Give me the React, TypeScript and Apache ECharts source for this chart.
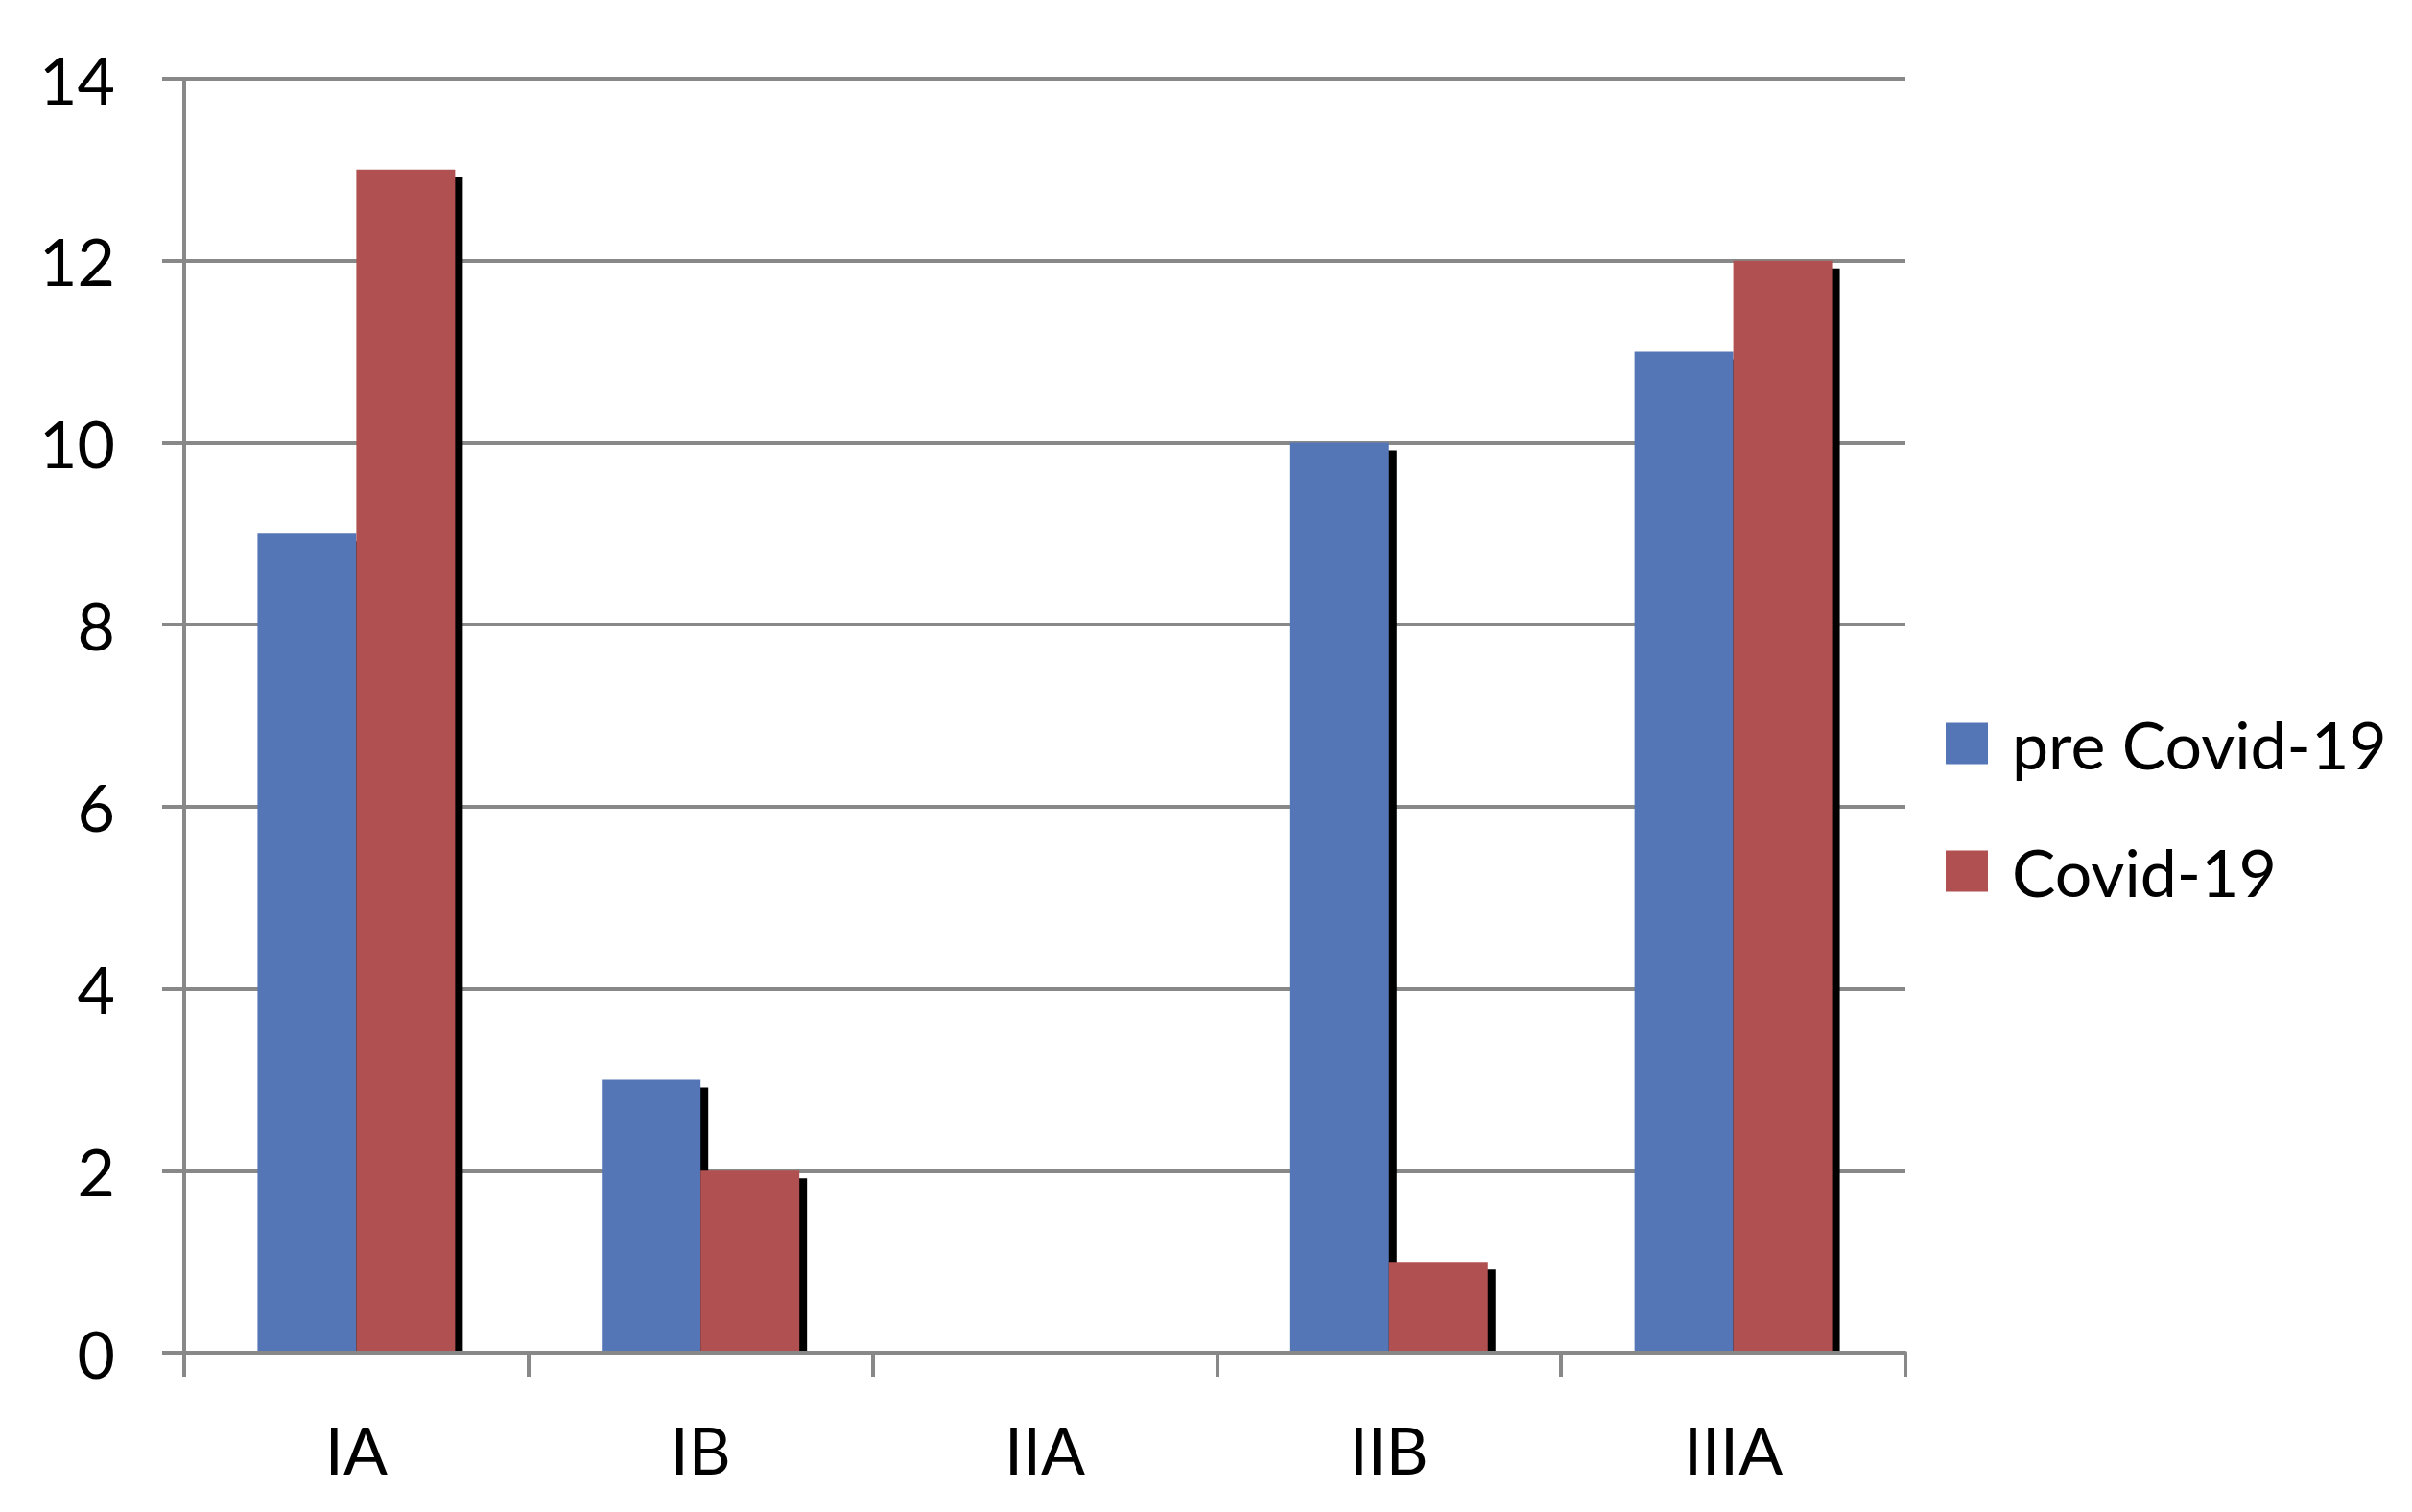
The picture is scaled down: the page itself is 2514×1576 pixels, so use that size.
import React, { useEffect, useRef } from "react";
import * as echarts from "echarts";

const categories = ["IA", "IB", "IIA", "IIB", "IIIA"];
const preCovid = [9, 3, 0, 10, 11];
const covid = [13, 2, 0, 1, 12];
const seriesNames = ["pre Covid-19", "Covid-19"];
const seriesColors = ["#5476B7", "#B05050"];
const yTicks = { min: 0, max: 14, interval: 2 };

const GRAY = "#888888";
const FONT = "Lato";

export default function App() {
  const ref = useRef<HTMLDivElement>(null);
  useEffect(() => {
    if (!ref.current) return;
    const chart = echarts.init(ref.current, null, { renderer: "svg" });
    const barRatio = 0.287;
    const shadow = 8;
    const makeRender = (side: number) => (params: any, api: any) => {
      const cat = api.value(0);
      const v = api.value(1);
      if (!v) return { type: "group", children: [] };
      const base = api.coord([cat, 0]);
      const top = api.coord([cat, v]);
      const catW = api.size([1, 0])[0];
      const w = catW * barRatio;
      const x = side === 0 ? base[0] - w : base[0];
      const h = base[1] - top[1];
      return {
        type: "group",
        children: [
          {
            type: "rect",
            shape: { x: x + shadow, y: top[1] + shadow, width: w, height: Math.max(0, h - shadow) },
            style: { fill: "#000000" },
          },
          {
            type: "rect",
            shape: { x, y: top[1], width: w, height: h },
            style: { fill: seriesColors[side] },
          },
        ],
      };
    };
    const seriesData = [preCovid, covid];
    chart.setOption({
      animation: false,
      backgroundColor: "#ffffff",
      textStyle: { fontFamily: FONT },
      grid: { left: 192, right: 528, top: 82, bottom: 166, containLabel: false },
      legend: {
        orient: "vertical",
        left: 2028,
        top: 741,
        padding: 0,
        itemWidth: 44,
        itemHeight: 43,
        itemGap: 65,
        icon: "rect",
        data: seriesNames,
        textStyle: {
          fontSize: 68,
          lineHeight: 43,
          fontFamily: FONT,
          color: "#000000",
          padding: [0, 0, 0, 20],
        },
      },
      xAxis: {
        type: "category",
        data: categories,
        z: 5,
        boundaryGap: true,
        axisLine: { show: true, lineStyle: { color: GRAY, width: 4 } },
        axisTick: { show: true, length: 25, interval: 0, lineStyle: { color: GRAY, width: 4 } },
        axisLabel: { interval: 0, margin: 66, fontSize: 68, fontFamily: FONT, color: "#000000" },
        splitLine: { show: false },
      },
      yAxis: {
        type: "value",
        min: yTicks.min,
        max: yTicks.max,
        interval: yTicks.interval,
        axisLine: { show: true, lineStyle: { color: GRAY, width: 4 } },
        axisTick: { show: true, length: 23, lineStyle: { color: GRAY, width: 4 } },
        axisLabel: { margin: 72, fontSize: 68, fontFamily: FONT, color: "#000000" },
        splitLine: { show: true, lineStyle: { color: GRAY, width: 4 } },
      },
      series: seriesNames.map((name, i) => ({
        type: "custom",
        name,
        itemStyle: { color: seriesColors[i] },
        encode: { x: 0, y: 1 },
        data: seriesData[i].map((v, j) => [j, v]),
        renderItem: makeRender(i),
      })),
    });
    return () => chart.dispose();
  }, []);
  return (
    <div
      ref={ref}
      style={{ position: "fixed", left: 0, top: 0, width: 2514, height: 1576, background: "#fff" }}
    />
  );
}
